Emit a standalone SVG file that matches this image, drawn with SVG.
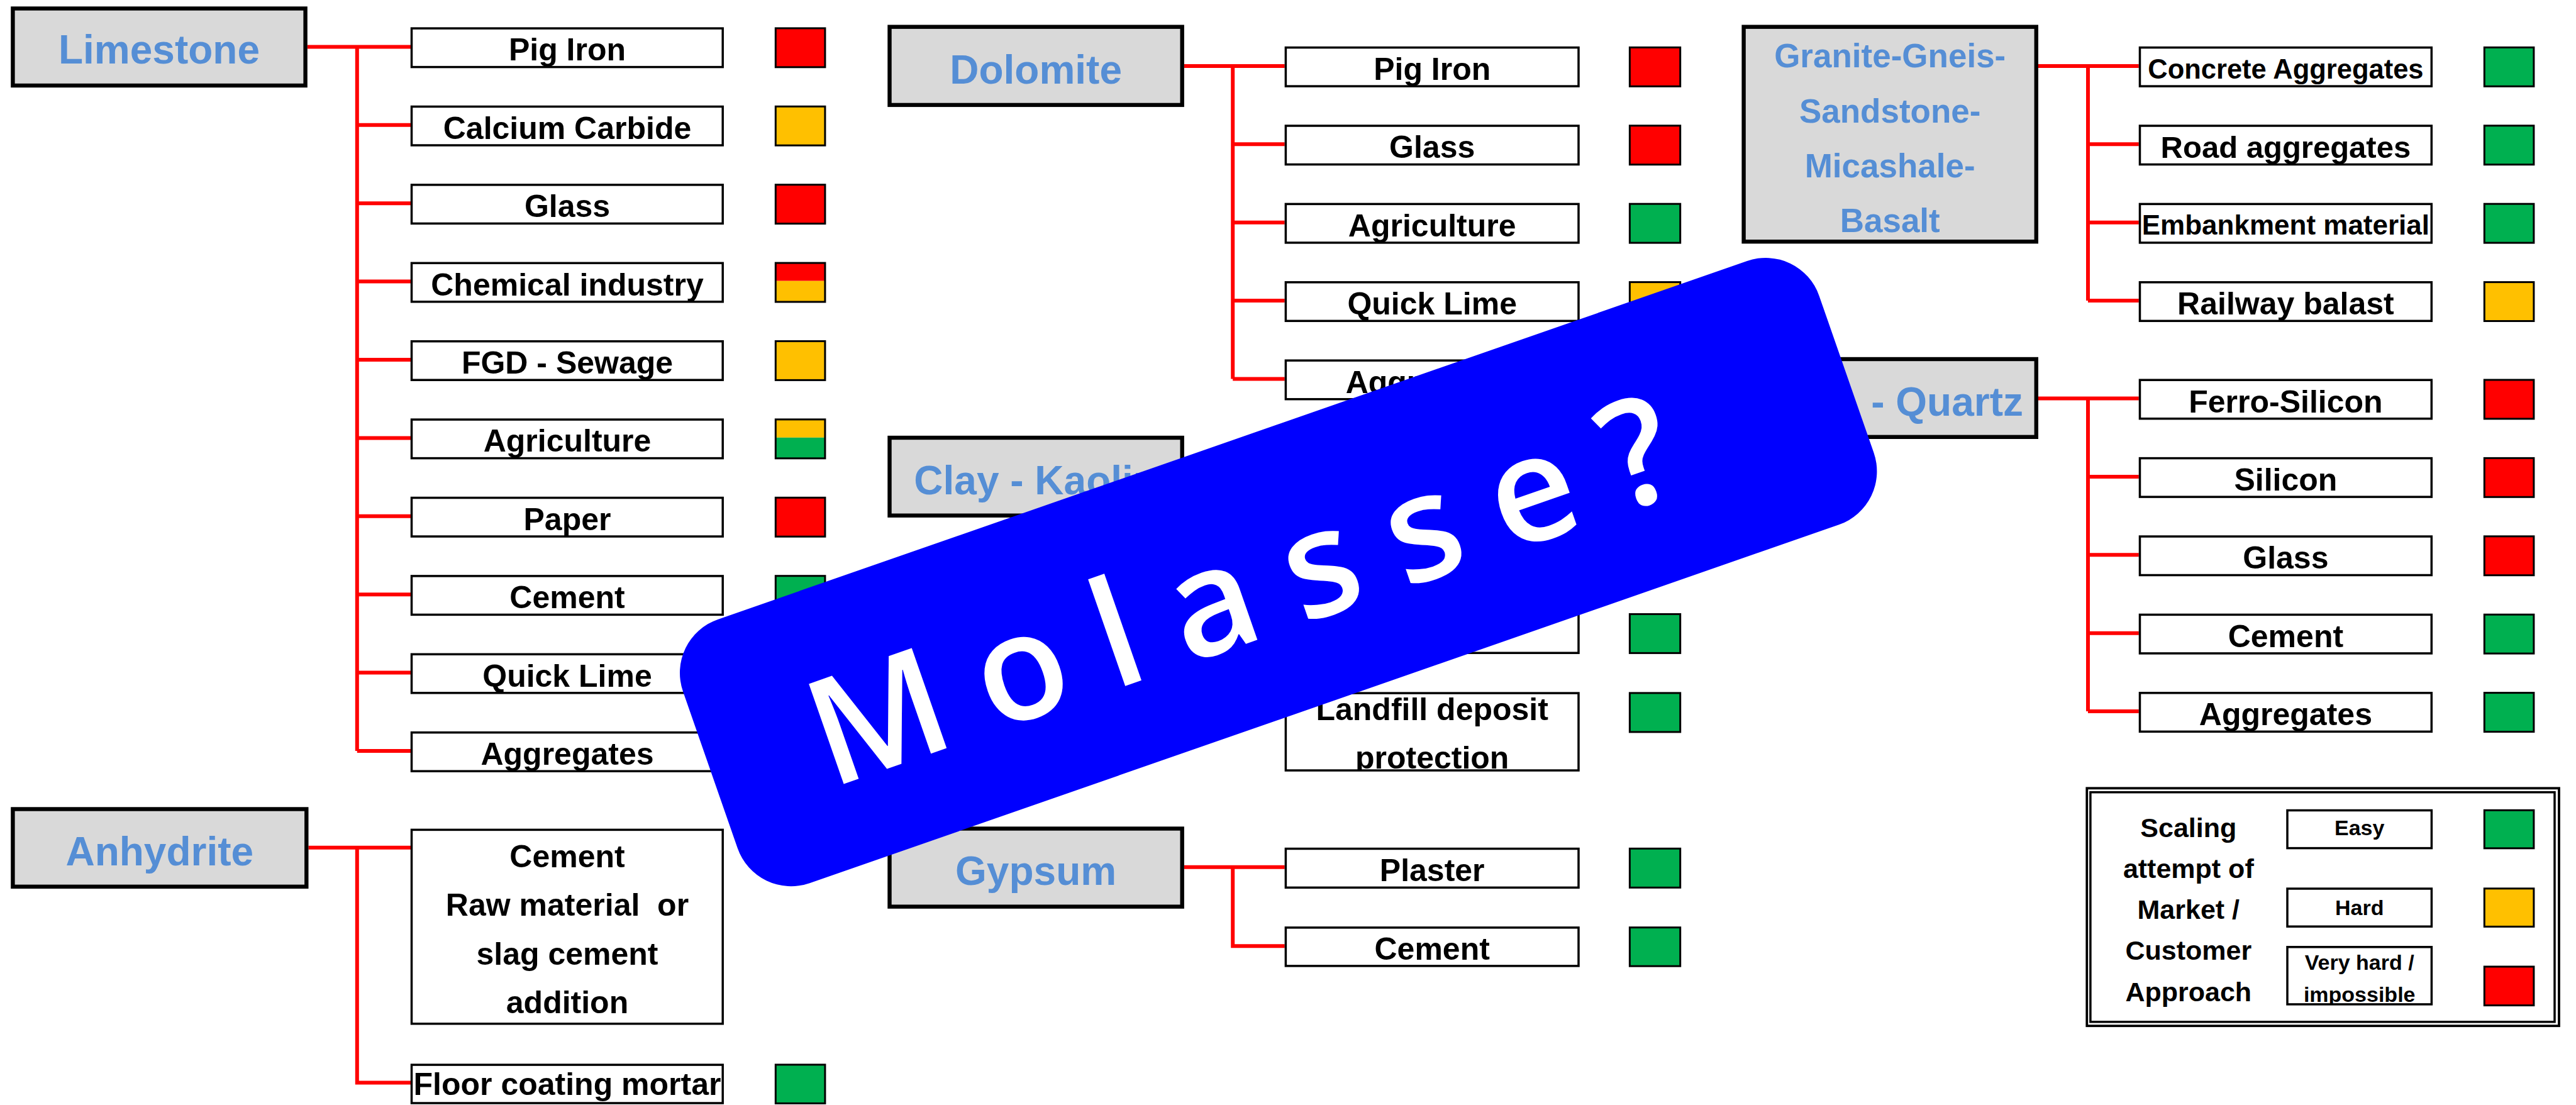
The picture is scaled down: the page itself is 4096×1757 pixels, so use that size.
<svg xmlns="http://www.w3.org/2000/svg" width="4096" height="1757" viewBox="0 0 4096 1757">
<style>
.hb{fill:#D9D9D9;stroke:#000;stroke-width:6.4}
.ht{font-family:"Liberation Sans",Arial,sans-serif;font-weight:bold;font-size:64px;fill:#558ED5;text-anchor:middle}
.cb{fill:#fff;stroke:#000;stroke-width:3.5}
.ct{font-family:"Liberation Sans",Arial,sans-serif;font-weight:bold;font-size:50px;fill:#000;text-anchor:middle}
.sq{stroke:#000;stroke-width:3}
.r{fill:#FF0000}.o{fill:#FFC000}.g{fill:#00B050}
.con{stroke:#FF0000;stroke-width:6;fill:none}
.lt{font-family:"Liberation Sans",Arial,sans-serif;font-weight:bold;font-size:43px;fill:#000;text-anchor:middle}
.st{font-family:"Liberation Sans",Arial,sans-serif;font-weight:bold;font-size:34px;fill:#000;text-anchor:middle}
</style>
<defs>
<clipPath id="clipLand"><rect x="2044.4" y="1102.1" width="465.6" height="122.9"/></clipPath>
<clipPath id="clipVH"><rect x="3637" y="1505.8" width="229.4" height="91.1"/></clipPath>
</defs>
<rect width="4096" height="1757" fill="#fff"/>

<g id="connectors">
<path class="con" d="M488.8 74.4H653M567.8 74.4V1194M567.8 198.8H653M567.8 323.2H653M567.8 447.6H653M567.8 572H653M567.8 696.4H653M567.8 820.8H653M567.8 945.2H653M567.8 1069.6H653M567.8 1194H653"/>
<path class="con" d="M490.5 1347.8H653M567.8 1347.8V1721.4H653"/>
<path class="con" d="M1882.9 104.9H2042.7M1960.2 104.9V602.5M1960.2 229.3H2042.7M1960.2 353.7H2042.7M1960.2 478.1H2042.7M1960.2 602.5H2042.7"/>
<path class="con" d="M1882.9 1378.7H2042.7M1960.2 1378.7V1504.2H2042.7"/>
<path class="con" d="M3241 104.9H3400.8M3320 104.9V478.1M3320 229.3H3400.8M3320 353.7H3400.8M3320 478.1H3400.8"/>
<path class="con" d="M3241 633.5H3400.8M3320 633.5V1131.1M3320 757.9H3400.8M3320 882.3H3400.8M3320 1006.7H3400.8M3320 1131.1H3400.8"/>
</g>

<g id="limestone">
<rect class="hb" x="20.4" y="13.5" width="465.2" height="122.5"/>
<text class="ht" x="253" y="101">Limestone</text>
</g>
<g id="limestone-children">
<rect class="cb" x="654.5" y="45.1" width="494.7" height="61.5"/><text class="ct" x="902" y="96.4">Pig Iron</text>
<rect class="cb" x="654.5" y="169.5" width="494.7" height="61.5"/><text class="ct" x="902" y="220.8">Calcium Carbide</text>
<rect class="cb" x="654.5" y="293.9" width="494.7" height="61.5"/><text class="ct" x="902" y="345.2">Glass</text>
<rect class="cb" x="654.5" y="418.3" width="494.7" height="61.5"/><text class="ct" x="902" y="469.6">Chemical industry</text>
<rect class="cb" x="654.5" y="542.7" width="494.7" height="61.5"/><text class="ct" x="902" y="594">FGD - Sewage</text>
<rect class="cb" x="654.5" y="667.1" width="494.7" height="61.5"/><text class="ct" x="902" y="718.4">Agriculture</text>
<rect class="cb" x="654.5" y="791.5" width="494.7" height="61.5"/><text class="ct" x="902" y="842.8">Paper</text>
<rect class="cb" x="654.5" y="915.9" width="494.7" height="61.5"/><text class="ct" x="902" y="967.2">Cement</text>
<rect class="cb" x="654.5" y="1040.3" width="494.7" height="61.5"/><text class="ct" x="902" y="1091.6">Quick Lime</text>
<rect class="cb" x="654.5" y="1164.7" width="494.7" height="61.5"/><text class="ct" x="902" y="1216">Aggregates</text>
<rect class="sq r" x="1233.3" y="44.9" width="78.6" height="61.9"/>
<rect class="sq o" x="1233.3" y="169.3" width="78.6" height="61.9"/>
<rect class="sq r" x="1233.3" y="293.7" width="78.6" height="61.9"/>
<rect class="r" x="1233.3" y="418.1" width="78.6" height="28.6"/><rect class="o" x="1233.3" y="446.7" width="78.6" height="33.3"/>
<rect x="1233.3" y="418.1" width="78.6" height="61.9" fill="none" stroke="#000" stroke-width="3"/>
<rect class="sq o" x="1233.3" y="542.5" width="78.6" height="61.9"/>
<rect class="o" x="1233.3" y="666.9" width="78.6" height="28.9"/><rect class="g" x="1233.3" y="695.8" width="78.6" height="33"/>
<rect x="1233.3" y="666.9" width="78.6" height="61.9" fill="none" stroke="#000" stroke-width="3"/>
<rect class="sq r" x="1233.3" y="791.3" width="78.6" height="61.9"/>
<rect class="sq g" x="1233.3" y="915.7" width="78.6" height="61.9"/>
</g>

<g id="anhydrite">
<rect class="hb" x="20.4" y="1286.5" width="466.9" height="123.3"/>
<text class="ht" x="253.8" y="1376">Anhydrite</text>
</g>
<g id="anhydrite-children">
<rect class="cb" x="654.5" y="1319.4" width="494.7" height="308.4"/>
<text class="ct" x="902" y="1378.7">Cement</text>
<text class="ct" x="902" y="1456" xml:space="preserve">Raw material  or</text>
<text class="ct" x="902" y="1533.7">slag cement</text>
<text class="ct" x="902" y="1611.2">addition</text>
<rect class="cb" x="654.5" y="1693.1" width="494.7" height="60.9"/>
<text class="ct" x="902" y="1741.3">Floor coating mortar</text>
<rect class="sq g" x="1233.3" y="1692.9" width="78.6" height="61.5"/>
</g>

<g id="dolomite">
<rect class="hb" x="1414.5" y="42.7" width="465.2" height="124.2"/>
<text class="ht" x="1647.1" y="133.1">Dolomite</text>
</g>
<g id="dolomite-children">
<rect class="cb" x="2044.4" y="75.6" width="465.6" height="61.5"/><text class="ct" x="2277.2" y="126.9">Pig Iron</text>
<rect class="cb" x="2044.4" y="200" width="465.6" height="61.5"/><text class="ct" x="2277.2" y="251.3">Glass</text>
<rect class="cb" x="2044.4" y="324.4" width="465.6" height="61.5"/><text class="ct" x="2277.2" y="375.7">Agriculture</text>
<rect class="cb" x="2044.4" y="448.8" width="465.6" height="61.5"/><text class="ct" x="2277.2" y="500.1">Quick Lime</text>
<rect class="cb" x="2044.4" y="573.2" width="465.6" height="61.5"/><text class="ct" x="2277.2" y="624.5">Aggregates</text>
<rect class="sq r" x="2591.4" y="75.4" width="80.3" height="61.9"/>
<rect class="sq r" x="2591.4" y="199.8" width="80.3" height="61.9"/>
<rect class="sq g" x="2591.4" y="324.2" width="80.3" height="61.9"/>
<rect class="sq o" x="2591.4" y="448.6" width="80.3" height="61.9"/>
</g>

<g id="clay">
<rect class="hb" x="1414.5" y="696" width="465.2" height="123.7"/>
<text class="ht" x="1647.1" y="785.9">Clay - Kaolin</text>
</g>
<g id="clay-children">
<rect class="cb" x="2044.4" y="976.7" width="465.6" height="61.5"/>
<rect class="cb" x="2044.4" y="1102.1" width="465.6" height="122.9"/>
<g clip-path="url(#clipLand)">
<text class="ct" x="2277.2" y="1145.3">Landfill deposit</text>
<text class="ct" x="2277.2" y="1222.1">protection</text>
</g>
<rect class="sq g" x="2591.4" y="976.5" width="80.3" height="61.9"/>
<rect class="sq g" x="2591.4" y="1101.9" width="80.3" height="62"/>
</g>

<g id="gypsum">
<rect class="hb" x="1414.5" y="1317.5" width="465.2" height="124.1"/>
<text class="ht" x="1647.1" y="1406.9">Gypsum</text>
</g>
<g id="gypsum-children">
<rect class="cb" x="2044.4" y="1349.5" width="465.6" height="61.8"/><text class="ct" x="2277.2" y="1400.8">Plaster</text>
<rect class="cb" x="2044.4" y="1474.9" width="465.6" height="61"/><text class="ct" x="2277.2" y="1526.2">Cement</text>
<rect class="sq g" x="2591.4" y="1349.3" width="80.3" height="62"/>
<rect class="sq g" x="2591.4" y="1474.7" width="80.3" height="61.5"/>
</g>

<g id="granite">
<rect class="hb" x="2772.6" y="42.7" width="465.2" height="341.5"/>
<text class="ht" x="3005.2" y="107.4" style="font-size:53px">Granite-Gneis-</text>
<text class="ht" x="3005.2" y="195" style="font-size:53px">Sandstone-</text>
<text class="ht" x="3005.2" y="281.8" style="font-size:53px">Micashale-</text>
<text class="ht" x="3005.2" y="368.5" style="font-size:53px">Basalt</text>
</g>
<g id="granite-children">
<rect class="cb" x="3402.5" y="75.6" width="463.8" height="61.5"/><text class="ct" x="3634.4" y="124.6" style="font-size:43.5px">Concrete Aggregates</text>
<rect class="cb" x="3402.5" y="200" width="463.8" height="61.5"/><text class="ct" x="3634.4" y="250.6" style="font-size:49px">Road aggregates</text>
<rect class="cb" x="3402.5" y="324.4" width="463.8" height="61.5"/><text class="ct" x="3634.4" y="373.4" style="font-size:44px">Embankment material</text>
<rect class="cb" x="3402.5" y="448.8" width="463.8" height="61.5"/><text class="ct" x="3634.4" y="500.1">Railway balast</text>
<rect class="sq g" x="3950.3" y="75.4" width="78.6" height="61.9"/>
<rect class="sq g" x="3950.3" y="199.8" width="78.6" height="61.9"/>
<rect class="sq g" x="3950.3" y="324.2" width="78.6" height="61.9"/>
<rect class="sq o" x="3950.3" y="448.6" width="78.6" height="61.9"/>
</g>

<g id="quartz">
<rect class="hb" x="2772.6" y="571" width="465.2" height="123.8"/>
<text class="ht" x="3217" y="660.5" style="text-anchor:end">- Quartz</text>
</g>
<g id="quartz-children">
<rect class="cb" x="3402.5" y="604.2" width="463.8" height="61.5"/><text class="ct" x="3634.4" y="655.5">Ferro-Silicon</text>
<rect class="cb" x="3402.5" y="728.6" width="463.8" height="61.5"/><text class="ct" x="3634.4" y="779.9">Silicon</text>
<rect class="cb" x="3402.5" y="853" width="463.8" height="61.5"/><text class="ct" x="3634.4" y="904.3">Glass</text>
<rect class="cb" x="3402.5" y="977.4" width="463.8" height="61.5"/><text class="ct" x="3634.4" y="1028.7">Cement</text>
<rect class="cb" x="3402.5" y="1101.8" width="463.8" height="61.5"/><text class="ct" x="3634.4" y="1153.1">Aggregates</text>
<rect class="sq r" x="3950.3" y="604" width="78.6" height="61.9"/>
<rect class="sq r" x="3950.3" y="728.4" width="78.6" height="61.9"/>
<rect class="sq r" x="3950.3" y="852.8" width="78.6" height="61.9"/>
<rect class="sq g" x="3950.3" y="977.2" width="78.6" height="61.9"/>
<rect class="sq g" x="3950.3" y="1101.6" width="78.6" height="61.9"/>
</g>

<g id="legend">
<rect x="3318.3" y="1253.3" width="750.7" height="377.9" fill="#fff" stroke="#000" stroke-width="3.8"/>
<rect x="3323.9" y="1259.7" width="738.1" height="365.1" fill="none" stroke="#000" stroke-width="3.5"/>
<text class="lt" x="3479.8" y="1330.6">Scaling</text>
<text class="lt" x="3479.8" y="1395.9">attempt of</text>
<text class="lt" x="3479.8" y="1461.2">Market /</text>
<text class="lt" x="3479.8" y="1526.4">Customer</text>
<text class="lt" x="3479.8" y="1591.7">Approach</text>
<rect class="cb" x="3637" y="1288.5" width="229.4" height="60.1"/><text class="st" x="3751.7" y="1327.7">Easy</text>
<rect class="cb" x="3637" y="1413" width="229.4" height="60.2"/><text class="st" x="3751.7" y="1454.5">Hard</text>
<rect class="cb" x="3637" y="1505.8" width="229.4" height="91.1"/>
<g clip-path="url(#clipVH)">
<text class="st" x="3751.7" y="1541.5">Very hard /</text>
<text class="st" x="3751.7" y="1592.6">impossible</text>
</g>
<rect class="sq g" x="3950.3" y="1288.3" width="78.6" height="60.5"/>
<rect class="sq o" x="3950.3" y="1412.8" width="78.6" height="60.6"/>
<rect class="sq r" x="3950.3" y="1537" width="78.6" height="61.6"/>
</g>

<g id="banner">
<rect x="-956.5" y="-222" width="1913" height="444" rx="90" fill="#0000FF" transform="translate(2032.7,909.6) rotate(-19.2)"/>
<text x="0" y="0" transform="translate(1320.8,1253.7) rotate(-19.2)" font-family="'Open Sans','Noto Sans','DejaVu Sans',sans-serif" font-weight="600" font-size="236" letter-spacing="57.6" fill="#fff">Molasse?</text>
</g>
</svg>
